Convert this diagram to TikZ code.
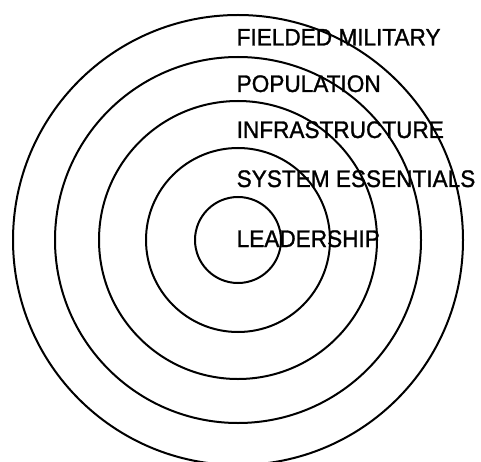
\documentclass[tikz,border=0pt]{standalone}
\usepackage{fontspec}
\setmainfont{Liberation Sans}
\newfontfamily\lvlfont{Liberation Sans}[FakeBold=1.2]
\usetikzlibrary{positioning}
\tikzset{
  every picture/.append style={x=1pt, y=1pt},
  ring/.style={circle, draw=black, line width=2pt, inner sep=0pt, minimum size=#1},
  lvl/.style={font=\lvlfont\fontsize{22.6}{26}\selectfont, inner sep=0pt, anchor=base west, yscale=1.06},
}
\begin{document}
\begin{tikzpicture}
\useasboundingbox (0,0) rectangle (481,461);

% ---------------- concentric rings --------------------------------------------
\coordinate (ctr) at (238,221);
\foreach \d/\n in {86/lead, 184/sys, 278/infra, 366/pop, 450/mil}{
  \node[ring=\d pt] (\n) at (ctr) {};
}

% ---------------- ring labels ---------------------------------------------------
\node[lvl] (tmil)   at (236.5,415.5) {FIELDED MILITARY};
\node[lvl] (tpop)   at (236.5,369)   {POPULATION};
\node[lvl] (tinfra) at (236.5,323)   {INFRASTRUCTURE};
\node[lvl] (tsys)   at (236.5,274)   {SYSTEM ESSENTIALS};
\node[lvl] (tlead)  at (236.5,214)   {LEADERSHIP};

\end{tikzpicture}
\end{document}
